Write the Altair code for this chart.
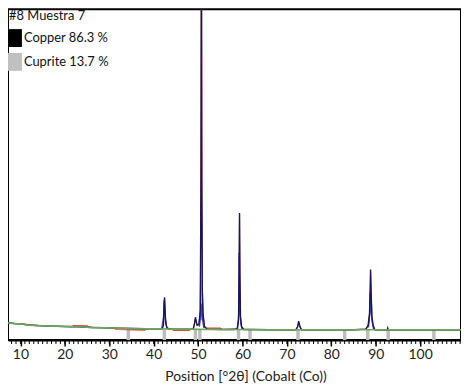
import altair as alt
import pandas as pd

# ---- data (x = °2θ, y = counts, arbitrary units) ----
obs_x = [7.2, 8.5, 10, 11, 12, 13.5, 15, 17, 20, 23, 26, 29, 32, 35, 38, 41,
         41.9, 42.2, 42.35, 42.45, 42.55, 42.7, 43.0, 44, 46, 48,
         48.9, 49.2, 49.4, 49.55, 49.8, 50.2, 50.5, 50.65, 50.74, 50.83, 50.95, 51.1, 51.4, 52,
         55, 58, 58.8, 59.1, 59.25, 59.33, 59.42, 59.55, 59.8, 60.3, 62, 66, 70,
         72.0, 72.4, 72.65, 72.9, 73.3, 76, 80, 85,
         87.8, 88.3, 88.6, 88.75, 88.84, 88.95, 89.15, 89.4, 89.8,
         92, 92.6, 92.7, 92.8, 95, 100, 105, 109.2]
obs_y = [52, 50, 49, 47, 45, 44, 43, 42, 41, 40, 38, 37, 36, 35, 34, 34,
         34, 45, 110, 129, 95, 55, 36, 33, 33, 33,
         33, 50, 69, 58, 45, 48, 90, 500, 1300, 500, 150, 80, 42, 33,
         32, 32, 34, 60, 200, 384, 200, 70, 40, 32, 32, 31, 31,
         31, 40, 57, 42, 31, 31, 31, 31,
         33, 45, 80, 150, 213, 150, 70, 45, 31,
         31, 31, 36, 31, 31, 31, 31, 31]

calc_x = [7.2, 10, 15, 20, 21.5, 22, 25, 25.5, 30, 31, 31.5, 38, 38.5, 41,
          41.9, 42.2, 42.35, 42.45, 42.55, 42.7, 43.0, 44, 44.5, 48, 48.5,
          48.9, 49.2, 49.4, 49.55, 49.8, 50.2, 50.5, 50.7, 50.78, 50.86, 51.0, 51.2, 51.5, 52, 55, 55.5,
          58.8, 59.1, 59.25, 59.33, 59.42, 59.55, 59.8, 60.3, 70,
          72.0, 72.4, 72.65, 72.9, 73.3, 85,
          87.8, 88.3, 88.6, 88.75, 88.84, 88.95, 89.15, 89.4, 89.8, 109.2]
calc_y = [52, 49, 43, 41, 40, 44, 43, 39, 37, 37, 32, 30, 34, 34,
          34, 44, 105, 125, 92, 52, 35, 33, 29, 29, 33,
          33, 48, 66, 56, 44, 46, 90, 700, 1300, 450, 140, 70, 38, 36, 36, 32,
          34, 58, 195, 380, 195, 68, 38, 32, 31,
          31, 39, 54, 40, 31, 31,
          33, 44, 78, 145, 205, 145, 68, 44, 31, 31]

prof_x = [41.8, 42.2, 42.38, 42.6, 42.9, 43.1,
          50.3, 50.5, 50.57, 50.62, 50.9, 51.0, 51.3,
          58.9, 59.15, 59.2, 59.3, 59.6, 59.9,
          88.4, 88.65, 88.72, 88.9, 89.2, 89.5]
prof_y = [34, 70, 120, 70, 40, 34,
          40, 60, 183, 60, 110, 60, 36,
          34, 80, 264, 100, 50, 33,
          38, 75, 140, 90, 55, 32]
prof_g = [1, 1, 1, 1, 1, 1,
          2, 2, 2, 2, 2, 2, 2,
          3, 3, 3, 3, 3, 3,
          4, 4, 4, 4, 4, 4]

bg_x = [7.2, 8.5, 10, 11, 12, 13.5, 15, 17, 20, 23, 26, 29, 32, 35, 38, 41, 44, 48, 52, 58, 66, 109.2]
bg_y = [52, 50, 49, 47, 45, 44, 43, 42, 41, 40, 38, 37, 36, 35, 34, 34, 33, 33, 32, 32, 31, 31]

cuprite_pos = [34.3, 42.4, 49.4, 50.4, 59.1, 61.7, 72.5, 83.0, 88.2, 92.8, 103.1]
cuprite_h = [31, 31, 31, 31, 31, 31, 31, 31, 31, 31, 31]

major_ticks = [10, 20, 30, 40, 50, 60, 70, 80, 90, 100]
minor_ticks = list(range(8, 110))

legend_title = "#8 Muestra 7"
legend_items = ["Copper 86.3 %", "Cuprite 13.7 %"]
legend_colors = ["#000000", "#c0c0c0"]

FONT = "Liberation Sans Narrow, Lato, sans-serif"
W, H = 456, 333

xs = alt.Scale(domain=[7.2, 109.2], nice=False, zero=False)
ys = alt.Scale(domain=[0, 1000], nice=False, zero=False)

xaxis = alt.Axis(values=major_ticks, tickSize=6, tickWidth=1.5, tickColor="black",
                 domainColor="black", domainWidth=2, grid=False,
                 labelFont=FONT, labelFontSize=14, labelColor="#222",
                 labelPadding=2, labelFlush=False,
                 title="Position [°2θ] (Cobalt (Co))", titleFont=FONT, titleFontSize=14,
                 titleFontWeight="normal", titleColor="#222",
                 titleX=239, titleY=37, titleBaseline="middle", titleAlign="center")

sticks = alt.Chart(pd.DataFrame({"x": cuprite_pos, "h": cuprite_h, "z": [0] * len(cuprite_pos)})).mark_rule(
    color="#bdbdbd", strokeWidth=3.5).encode(
    x=alt.X("x:Q", scale=xs, axis=xaxis),
    y=alt.Y("z:Q", scale=ys, axis=None),
    y2="h:Q")

minor = alt.Chart(pd.DataFrame({"x": minor_ticks})).mark_rule(color="black", strokeWidth=1).encode(
    x=alt.X("x:Q", scale=xs),
    y=alt.value(H + 1),
    y2=alt.value(H + 4))

calc = alt.Chart(pd.DataFrame({"x": calc_x, "y": calc_y})).mark_line(
    color="#e0462a", strokeWidth=1.1, clip=True).encode(
    x=alt.X("x:Q", scale=xs), y=alt.Y("y:Q", scale=ys), order="x:Q")

prof = alt.Chart(pd.DataFrame({"x": prof_x, "y": prof_y, "g": prof_g})).mark_line(
    color="#4a46c8", strokeWidth=1.2, clip=True).encode(
    x=alt.X("x:Q", scale=xs), y=alt.Y("y:Q", scale=ys), detail="g:N", order="x:Q")

obs = alt.Chart(pd.DataFrame({"x": obs_x, "y": obs_y})).mark_line(
    color="#16165a", strokeWidth=1.4, clip=True).encode(
    x=alt.X("x:Q", scale=xs), y=alt.Y("y:Q", scale=ys), order="x:Q")

bg = alt.Chart(pd.DataFrame({"x": bg_x, "y": bg_y})).mark_line(
    color="#6aa85a", strokeWidth=1.6, clip=True).encode(
    x=alt.X("x:Q", scale=xs), y=alt.Y("y:Q", scale=ys), order="x:Q")

title_txt = alt.Chart(pd.DataFrame({"t": [legend_title]})).mark_text(
    align="left", baseline="middle", font=FONT, fontSize=13, color="#111").encode(
    text="t:N", x=alt.value(1), y=alt.value(7))

leg_box1 = alt.Chart(pd.DataFrame({"t": [legend_items[0]]})).mark_rect(color=legend_colors[0]).encode(
    x=alt.value(0), x2=alt.value(14), y=alt.value(20), y2=alt.value(38))
leg_box2 = alt.Chart(pd.DataFrame({"t": [legend_items[1]]})).mark_rect(color=legend_colors[1]).encode(
    x=alt.value(0), x2=alt.value(14), y=alt.value(44), y2=alt.value(62))
leg_t1 = alt.Chart(pd.DataFrame({"t": [legend_items[0]]})).mark_text(
    align="left", baseline="middle", font=FONT, fontSize=13, color="#111").encode(
    text="t:N", x=alt.value(16), y=alt.value(29))
leg_t2 = alt.Chart(pd.DataFrame({"t": [legend_items[1]]})).mark_text(
    align="left", baseline="middle", font=FONT, fontSize=13, color="#111").encode(
    text="t:N", x=alt.value(16), y=alt.value(53))

chart = alt.layer(sticks, minor, calc, prof, obs, bg,
                  title_txt, leg_box1, leg_box2, leg_t1, leg_t2).properties(
    width=W, height=H, padding={"left": 0, "top": 0, "right": 0, "bottom": 0},
    background="white"
).configure_view(stroke="black", strokeWidth=2)

chart.save("out.html", embed_options={"renderer": "svg", "actions": False})
